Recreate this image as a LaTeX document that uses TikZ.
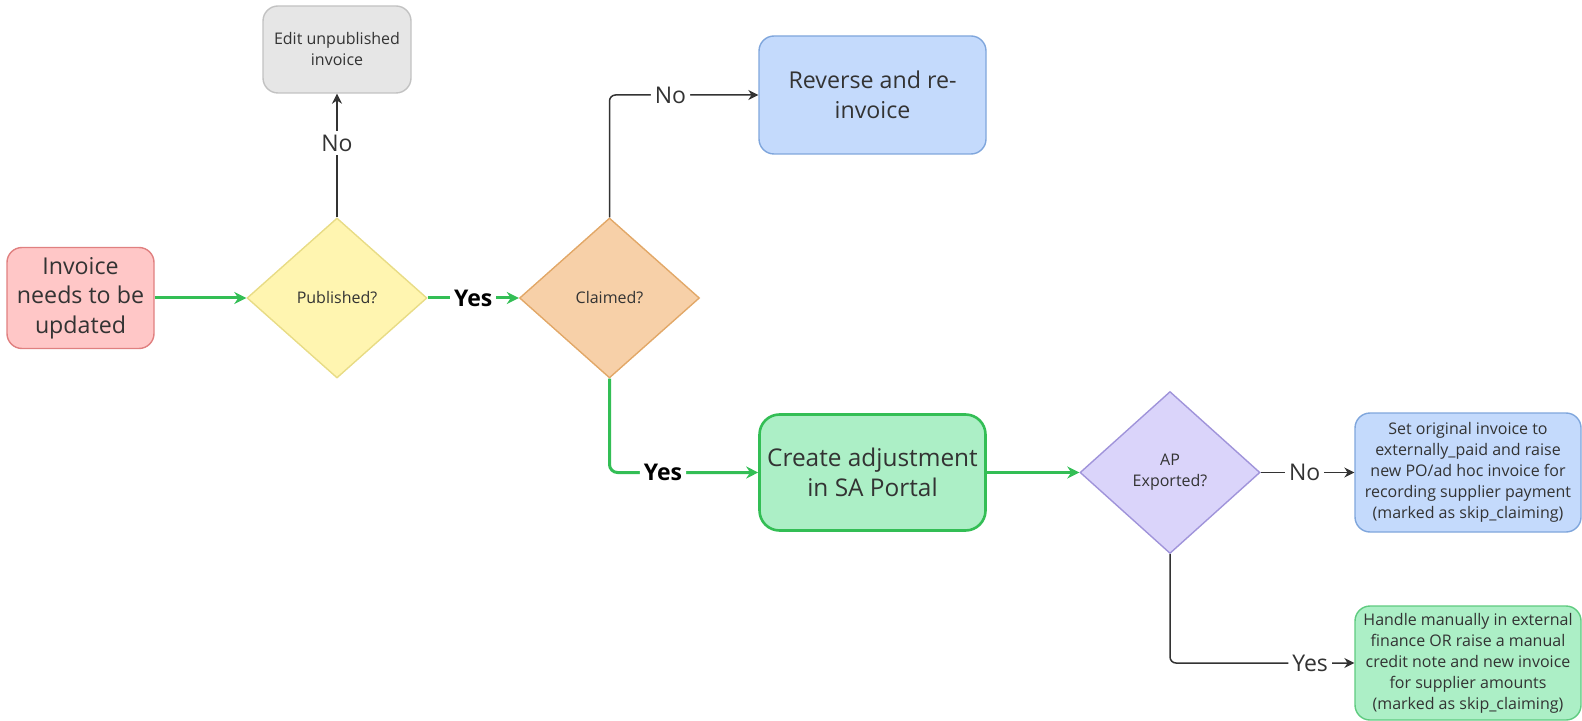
\documentclass[tikz,border=0pt]{standalone}
\usepackage{fontspec}
\setmainfont{Open Sans}
\usetikzlibrary{shapes.geometric,arrows.meta}

\definecolor{inkgray}{HTML}{333333}
\definecolor{startfill}{HTML}{FFC7C7}
\definecolor{startline}{HTML}{E08080}
\definecolor{editfill}{HTML}{E6E6E6}
\definecolor{editline}{HTML}{C2C2C2}
\definecolor{pubfill}{HTML}{FFF5B0}
\definecolor{publine}{HTML}{E8DC86}
\definecolor{claimfill}{HTML}{F7D0A8}
\definecolor{claimline}{HTML}{E2A868}
\definecolor{bluefill}{HTML}{C4DAFC}
\definecolor{blueline}{HTML}{7FA6DC}
\definecolor{mintfill}{HTML}{ACEFC6}
\definecolor{mintline}{HTML}{5FCB80}
\definecolor{apfill}{HTML}{DAD4FA}
\definecolor{apline}{HTML}{A094DA}
\definecolor{flowgreen}{HTML}{33BE55}

\tikzset{
  bigtext/.style={font=\fontsize{11.6}{14.7}\selectfont},
  smalltext/.style={font=\fontsize{8}{10.5}\selectfont},
  procbox/.style={rectangle, rounded corners=7.5pt, draw, line width=0.7pt,
    align=center, text=inkgray, inner sep=2pt},
  decision/.style={diamond, draw, line width=0.7pt, align=center, text=inkgray,
    inner sep=0pt, minimum width=90pt, minimum height=80pt, smalltext},
  yesline/.style={draw=flowgreen, line width=1.5pt, -{Stealth[length=6pt,width=6pt]}},
  noline/.style={draw=inkgray, line width=0.75pt, -{Stealth[length=5pt,width=5pt]}},
  yeslabel/.style={fill=white, inner sep=2pt, text=black,
    font=\fontsize{11.5}{13}\selectfont\bfseries},
  nolabel/.style={fill=white, inner sep=2pt, text=inkgray,
    font=\fontsize{11.5}{13}\selectfont},
}

\begin{document}
\begin{tikzpicture}[x=0.5pt, y=-0.5pt]
\useasboundingbox (0,0) rectangle (1582,721);

% boxes and decisions
\node[procbox, bigtext, fill=startfill, draw=startline, minimum width=73.5pt, minimum height=50.5pt]
  (start) at (80.5,298) {Invoice\\needs to be\\updated};
\node[procbox, smalltext, fill=editfill, draw=editline, minimum width=74pt, minimum height=43.5pt]
  (edit) at (337,49.5) {Edit unpublished\\invoice};
\node[decision, fill=pubfill, draw=publine] (pub) at (337,298) {Published?};
\node[decision, fill=claimfill, draw=claimline] (claim) at (609.5,298) {Claimed?};
\node[procbox, bigtext, fill=bluefill, draw=blueline, minimum width=113.5pt, minimum height=59pt]
  (reverse) at (872.5,95) {Reverse and re-\\invoice};
\node[procbox, font=\fontsize{12.2}{14.7}\selectfont, rounded corners=10pt, fill=mintfill,
  draw=flowgreen, line width=1.3pt, minimum width=113pt, minimum height=58pt]
  (adjust) at (872.5,472.5) {Create adjustment\\in SA Portal};
\node[decision, fill=apfill, draw=apline, minimum height=81pt] (ap) at (1170,472.5) {AP\\Exported?};
\node[procbox, smalltext, fill=bluefill, draw=blueline, minimum width=113pt, minimum height=59.5pt]
  (extpaid) at (1468,472.5) {Set original invoice to\\externally\_paid and raise\\new PO/ad hoc invoice for\\recording supplier payment\\(marked as skip\_claiming)};
\node[procbox, smalltext, fill=mintfill, draw=mintline, minimum width=113pt, minimum height=57pt]
  (manual) at (1468,663) {Handle manually in external\\finance OR raise a manual\\credit note and new invoice\\for supplier amounts\\(marked as skip\_claiming)};

% connectors
\draw[yesline] (start.east) -- (pub.west);
\draw[yesline] (pub.east) -- node[yeslabel] {Yes} (claim.west);
\draw[noline] (pub.north) -- node[nolabel, pos=0.6] {No} (edit.south);
\draw[noline, rounded corners=3pt] (claim.north) |- node[nolabel, pos=0.705] {No} (reverse.west);
\draw[yesline, rounded corners=4pt] (claim.south) |- node[yeslabel, pos=0.68] {Yes} (adjust.west);
\draw[yesline] (adjust.east) -- (ap.west);
\draw[noline] (ap.east) -- node[nolabel, pos=0.47] {No} (extpaid.west);
\draw[noline, rounded corners=3pt] (ap.south) |- node[nolabel, pos=0.88] {Yes} (manual.west);
\end{tikzpicture}
\end{document}
